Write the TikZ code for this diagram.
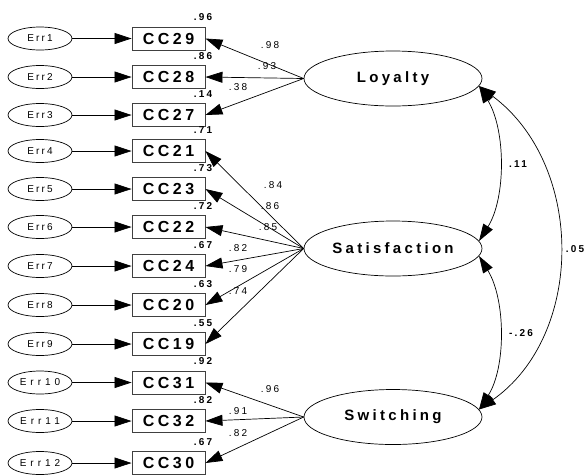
\documentclass[tikz,border=0pt]{standalone}
\usepackage{fontspec}
\setmainfont{Liberation Sans}
\newfontfamily\spacedfont[LetterSpace=22]{Liberation Sans}
\newfontfamily\widerfont[LetterSpace=40]{Liberation Sans}
\newfontfamily\spacedbold[LetterSpace=22]{Liberation Sans Bold}
\usetikzlibrary{arrows.meta,shapes.geometric}

\begin{document}
\begin{tikzpicture}[x=1pt,y=-1pt,
  head/.style={-{Triangle[length=17pt,width=11pt]}},
  twohead/.style={{Triangle[length=17pt,width=11pt]}-{Triangle[length=17pt,width=11pt]}},
  conn/.style={line width=0.7pt},
  errnode/.style={ellipse,draw,line width=0.7pt,minimum width=64pt,minimum height=23pt,inner sep=0pt,
                  font=\spacedfont\fontsize{10}{10}\selectfont},
  errwide/.style={errnode,font=\widerfont\fontsize{10}{10}\selectfont},
  itembox/.style={rectangle,draw=black!75,line width=0.9pt,minimum width=73pt,minimum height=23pt,inner sep=0pt,
                  font=\spacedbold\fontsize{16}{16}\selectfont},
  latent/.style={ellipse,draw,line width=0.7pt,minimum width=178pt,minimum height=55pt,inner sep=0pt,
                 font=\spacedbold\fontsize{15}{15}\selectfont},
  rsq/.style={anchor=base east,inner sep=0pt,font=\spacedbold\fontsize{10}{10}\selectfont},
  loadlbl/.style={inner sep=0pt,font=\spacedfont\fontsize{10}{10}\selectfont},
  covlbl/.style={inner sep=0pt,font=\spacedbold\fontsize{10}{10}\selectfont}]
\useasboundingbox (0,0) rectangle (586,475);

% latent factors
\node[latent] (L) at (393,78.5) {Loyalty};
\node[latent] (S) at (393,248.5) {Satisfaction};
\node[latent] (W) at (393,417) {Switching};

% error terms, indicators and squared multiple correlations
\foreach \i/\cc/\y/\r/\st in {1/29/38.5/.96/errnode, 2/28/77/.86/errnode, 3/27/115/.14/errnode,
                         4/21/151/.71/errnode, 5/23/189/.73/errnode, 6/22/227/.72/errnode,
                         7/24/266/.67/errnode, 8/20/305/.63/errnode, 9/19/344/.55/errnode,
                         10/31/382.5/.92/errwide, 11/32/421/.82/errwide, 12/30/463/.67/errwide}{
  \node[\st] (e\i) at (40,\y) {Err\i};
  \node[itembox] (c\i) at (168.5,\y) {CC\cc};
  \node[rsq] (r\i) at ([xshift=7pt,yshift=6pt]c\i.north east) {\r};
  \draw[conn,head] (e\i.east) -- (c\i.west);
}

% factor loadings
\foreach \i in {1,2,3}{\draw[conn,head] (L.west) -- (c\i.east);}
\foreach \i in {4,...,9}{\draw[conn,head] (S.west) -- (c\i.east);}
\foreach \i in {10,11,12}{\draw[conn,head] (W.west) -- (c\i.east);}

\node[loadlbl] (l1) at (270,45) {.98};
\node[loadlbl] (l2) at (267,66) {.93};
\node[loadlbl] (l3) at (238,87) {.38};
\node[loadlbl] (l4) at (273,185) {.84};
\node[loadlbl] (l5) at (270,206) {.86};
\node[loadlbl] (l6) at (268,227) {.85};
\node[loadlbl] (l7) at (238,248) {.82};
\node[loadlbl] (l8) at (238,269) {.79};
\node[loadlbl] (l9) at (238,291) {.74};
\node[loadlbl] (l10) at (270,389) {.96};
\node[loadlbl] (l11) at (238,411) {.91};
\node[loadlbl] (l12) at (238,433) {.82};

% factor covariances
\draw[conn,twohead] (L.-5) .. controls (506,130) and (506,198) .. (S.5);
\draw[conn,twohead] (S.-5) .. controls (506,300) and (506,368) .. (W.5);
\draw[conn,twohead] (L.-5) .. controls (585,165) and (585,335) .. (W.5);

\node[covlbl] (k1) at (518,164) {.11};
\node[covlbl] (k2) at (521,333) {-.26};
\node[covlbl] (k3) at (575,249) {.05};
\end{tikzpicture}
\end{document}
